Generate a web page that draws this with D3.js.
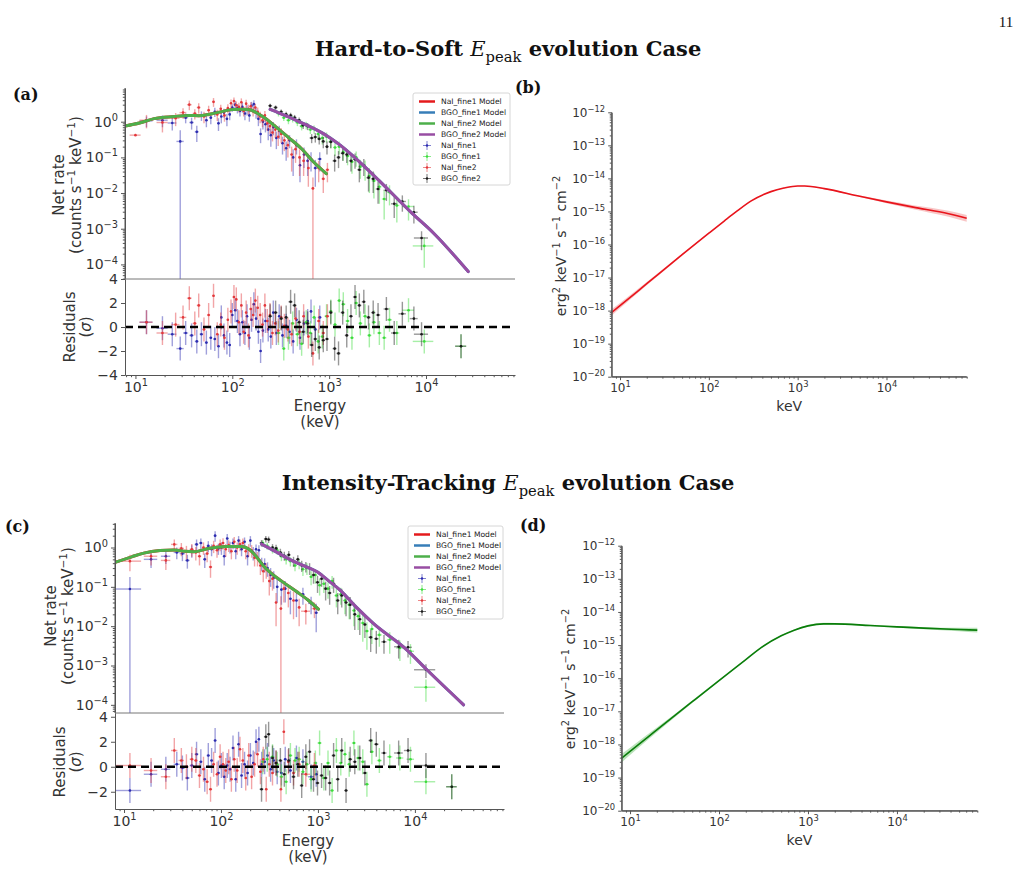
<!DOCTYPE html>
<html>
<head>
<meta charset="utf-8">
<script src="https://cdn.jsdelivr.net/npm/d3@7"></script>
<style>
body { margin: 0; background: #fff; }
text { font-family: "DejaVu Sans", sans-serif; }
</style>
</head>
<body>
<div id="chart"></div>
<script>
// ---- data ----
// count spectra points: [energy keV, half bin width, rate, rate error, residual sigma]
var nai1A = [[13,2,1.05,0.35,0.4],[19,2.5,1.1,0.4,-0.1],[24,2.5,0.92,0.35,-0.6],[29,2.5,0.28,0.3,-1.8],[33,2,1.3,0.4,-0.5],
  [38,2,0.95,0.35,-0.7],[43,2,0.52,0.25,-1.2],[48,2,1.5,0.45,-0.6],[54,2,1.1,0.4,-1.3],[60,2,1.3,0.45,-0.9],[66,2,1.9,0.55,-1.0],
  [72,2,0.9,0.35,-1.6],[77,2,1.4,0.5,0.8],[82,2,1.8,0.5,-0.7],[88,2.5,1.2,0.45,-1.3],[94,2.5,1.6,0.5,-1.5],[100,2.5,2.5,0.6,1.0],
  [107,3,3.0,0.8,1.4],[113,3,2.4,0.7,0.5],[120,3,2.0,0.6,-0.6],[127,3,2.6,0.8,0.4],[135,3,1.7,0.6,-0.5],[142,3,2.2,0.7,0.9],
  [150,3.5,1.5,0.5,-0.9],[158,3.5,2.8,0.8,0.6],[167,4,3.1,0.9,1.9],[176,4,1.8,0.6,0.7],[186,4,1.2,0.45,-0.4],[196,4.5,0.45,0.2,-2.0],
  [207,5,1.0,0.4,-0.3],[220,5,0.85,0.35,0.5],[235,5,0.6,0.3,-0.2],[250,6,0.42,0.22,-0.8],[265,6,0.7,0.28,1.2],[285,7,0.35,0.18,-0.5],
  [305,8,0.55,0.22,0.9],[330,8,0.25,0.13,-0.7],[360,9,0.18,0.1,0.1],[390,10,0.3,0.12,-0.4],[425,12,0.1,0.07,-1.2],[460,12,0.22,0.1,0.6],
  [500,14,0.06,0.04,-0.9],[550,15,0.12,0.07,0.3],[600,20,0.08,0.05,0.5],[650,20,0.09,0.05,1.3],[720,30,0.05,0.035,-0.2],[800,40,0.09,0.05,0.8]];
var nai2A = [[10,1.3,0.42,0.01,null],[13,2,1.1,0.45,0.4],[19,2.5,0.95,0.45,-0.5],[26,2.5,1.25,0.5,0.2],[31,2.5,1.8,0.6,0.8],[36,2,3.0,0.9,2.4],
  [41,2,1.7,0.55,0.3],[45,2,2.5,0.8,1.8],[51,2,1.4,0.5,-0.2],[57,2,2.1,0.7,1.0],[64,2,3.6,1.0,2.6],[70,2,1.6,0.55,-0.6],[76,2,2.3,0.7,0.2],
  [83,2,1.5,0.5,-0.9],[90,2.5,2.4,0.7,0.6],[97,2.5,3.3,0.9,1.3],[104,3,3.8,1.0,2.5],[110,3,2.9,0.8,2.3],[117,3,2.6,0.8,0.4],[124,3,3.5,1.0,1.8],
  [131,3,2.0,0.6,-0.4],[139,3,3.2,0.9,1.2],[147,3.5,2.3,0.7,-0.7],[155,3.5,2.7,0.8,1.5],[164,4,2.0,0.6,1.0],[173,4,2.5,0.7,2.2],
  [183,4,1.9,0.6,1.6],[194,4.5,1.4,0.5,1.0],[205,5,1.1,0.4,0.2],[217,5,1.5,0.5,1.8],[230,5,0.9,0.35,0.5],[245,6,0.75,0.3,1.0],
  [260,6,0.5,0.22,-0.5],[278,7,0.6,0.25,0.3],[298,8,0.38,0.17,-0.3],[320,8,0.45,0.2,0.8],[345,9,0.3,0.15,0.1],[375,10,0.22,0.12,-0.2],
  [410,12,0.12,0.08,-0.6],[450,12,0.17,0.1,0.7],[495,14,0.1,0.07,-0.4],[545,15,0.08,0.05,0.9],[610,20,0.05,0.035,-0.8],
  [680,25,0.0135,0.014,-2.2],[780,30,0.05,0.03,0.5],[870,35,0.025,0.015,-0.5],[960,40,0.045,0.025,0.9]];
var bgo1A = [[300,15,1.7,0.3,-0.5],[340,15,1.3,0.25,-1.8],[380,20,1.1,0.25,-0.9],[420,20,1.2,0.25,0.3],[470,25,0.95,0.2,-0.6],
  [520,25,0.75,0.18,-1.4],[580,30,0.8,0.2,0.4],[640,30,0.6,0.15,-0.5],[700,35,0.62,0.16,0.8],[770,35,0.45,0.13,-1.2],[850,40,0.35,0.12,-0.8],
  [940,45,0.38,0.12,0.9],[1040,50,0.28,0.1,1.3],[1150,55,0.19,0.08,0.2],[1270,60,0.2,0.08,2.2],[1400,70,0.14,0.06,1.9],[1550,75,0.11,0.05,0.5],
  [1720,80,0.075,0.04,-0.9],[1900,90,0.1,0.045,2.0],[2100,100,0.055,0.03,0.3],[2350,120,0.052,0.03,0.9],[2600,130,0.03,0.02,-0.7],
  [2900,150,0.022,0.015,0.4],[3300,170,0.015,0.01,-0.5],[3700,200,0.0068,0.005,-0.9],[4200,250,0.0105,0.006,0.6],[5000,300,0.0045,0.003,-0.5],
  [6600,900,0.0042,0.0025,1.4],[9600,2300,0.00033,0.00025,-1.2],[23000,3000,null,0,-1.6]];
var bgo2A = [[246,12,2.8,0.4,0.9],[280,14,2.5,0.35,1.2],[320,15,1.9,0.3,0.7],[360,17,1.6,0.3,0.8],[400,20,1.5,0.28,2.1],[440,22,1.3,0.25,1.8],
  [490,25,1.1,0.22,0.4],[540,28,0.8,0.18,-0.4],[600,30,0.75,0.17,0.3],[660,32,0.35,0.1,-1.5],[720,35,0.37,0.11,-1.0],[790,38,0.33,0.1,-1.7],
  [870,40,0.28,0.1,-1.1],[950,45,0.2,0.08,-1.0],[1040,50,0.27,0.09,1.2],[1140,55,0.08,0.04,-1.8],[1250,60,0.1,0.05,-2.2],[1380,65,0.13,0.05,1.2],
  [1520,70,0.12,0.05,-0.7],[1680,80,0.08,0.04,0.9],[1850,90,0.088,0.04,2.5],[2050,100,0.045,0.025,1.8],[2280,110,0.06,0.03,2.1],
  [2550,130,0.027,0.016,0.8],[2850,150,0.025,0.015,1.2],[3200,170,0.013,0.008,1.0],[3900,250,0.012,0.006,1.5],[4700,350,0.005,0.003,-0.5],
  [5700,500,0.0058,0.0028,1.1],[7500,700,0.0029,0.0015,0.7],[9000,1500,0.00055,0.0003,-0.6],[23000,3000,null,0,-1.6]];

var nai1C = [[11.5,3.5,0.088,0.09,-1.9],[19,3,0.5,0.2,-0.6],[27,3,0.6,0.22,-0.2],[35,2.5,0.75,0.25,0.2],[40,2.5,0.7,0.25,-0.1],
  [45,2.5,0.47,0.18,-0.9],[50,2.5,0.85,0.3,0.1],[56,2.5,1.2,0.4,1.0],[62,2.5,1.3,0.4,0.4],[68,2.5,0.5,0.2,-1.0],[74,3,1.1,0.35,0.9],
  [80,3,0.9,0.3,0.5],[87,3,2.0,0.6,2.1],[94,3,0.95,0.3,-0.5],[101,3.5,1.0,0.35,0.1],[108,3.5,0.6,0.25,-0.8],[116,3.5,1.7,0.5,0.1],
  [124,4,1.05,0.35,-0.2],[133,4,1.3,0.4,1.5],[142,4,0.8,0.3,-1.0],[152,4.5,1.5,0.45,1.8],[163,4.5,0.9,0.3,-0.7],[175,5,1.4,0.4,0.2],
  [188,5,0.6,0.25,-0.5],[201,5.5,1.5,0.45,0.9],[215,6,0.75,0.28,0.3],[230,6,0.9,0.3,2.0],[246,7,0.85,0.3,2.2],[263,7,0.4,0.15,0.2],
  [282,8,0.38,0.15,0.4],[302,8,0.3,0.12,0.9],[325,9,0.2,0.1,-0.2],[350,10,0.17,0.08,0.5],[380,12,0.1,0.06,-0.4],[420,14,0.085,0.05,-0.5],
  [460,16,0.09,0.05,0.6],[520,20,0.05,0.03,-0.3],[600,25,0.045,0.028,0.7],[700,30,0.065,0.03,0.4],[850,60,0.038,0.018,-0.8],[960,40,0.022,0.015,-0.6]];
var nai2C = [[11.5,3.5,0.45,0.2,0.1],[19,3,0.6,0.25,-0.3],[27,3,0.47,0.2,-0.8],[33,2.5,1.2,0.4,1.3],[39,2.5,0.95,0.35,0.5],[44,2.5,0.8,0.3,0.0],
  [50,2.5,0.9,0.32,0.6],[55,2.5,0.75,0.28,0.5],[60,2.5,0.6,0.25,-0.7],[66,2.5,1.0,0.35,-0.2],[72,3,0.7,0.28,-1.2],[78,3,0.32,0.15,-1.8],
  [84,3,1.1,0.38,0.2],[91,3,0.85,0.3,-0.6],[98,3.5,1.2,0.4,0.8],[105,3.5,1.3,0.42,0.2],[112,3.5,0.9,0.32,-0.3],[120,4,1.15,0.38,0.4],
  [128,4,0.8,0.3,-1.0],[137,4,1.4,0.45,0.6],[147,4.5,1.0,0.35,-0.3],[157,4.5,1.2,0.4,1.4],[168,5,1.3,0.4,0.5],[180,5,0.8,0.3,-0.9],
  [193,5.5,0.9,0.32,0.9],[207,6,0.85,0.3,-0.8],[222,6,0.55,0.22,0.2],[238,7,0.55,0.22,1.0],[255,7,0.35,0.15,-0.4],[273,8,0.25,0.12,0.6],
  [293,8,0.28,0.12,-1.8],[315,9,0.14,0.08,0.2],[340,10,0.16,0.08,-0.5],[370,11,0.04,0.03,0.3],[415,12,0.028,0.03,-1.8],[445,14,0.09,0.05,2.8],
  [495,16,0.07,0.04,0.4],[560,18,0.045,0.03,-0.5],[640,22,0.03,0.02,0.2],[750,80,0.024,0.013,-0.6],[920,60,0.028,0.012,0.1]];
var bgo1C = [[270,12,1.3,0.25,0.4],[300,14,1.1,0.22,0.6],[340,15,0.9,0.2,0.8],[380,18,0.85,0.2,0.2],[420,20,0.6,0.15,-0.8],[470,22,0.5,0.13,-1.2],
  [520,25,0.45,0.12,0.9],[580,28,0.35,0.1,0.5],[640,30,0.4,0.12,0.6],[700,32,0.28,0.09,-0.4],[770,35,0.3,0.1,0.2],[850,40,0.18,0.07,-1.0],
  [940,45,0.2,0.08,0.3],[1040,50,0.11,0.05,1.9],[1150,55,0.12,0.05,-0.9],[1270,60,0.09,0.04,0.3],[1400,65,0.14,0.05,-1.9],[1550,75,0.06,0.03,1.3],
  [1720,80,0.065,0.03,0.3],[1900,90,0.045,0.025,1.0],[2100,100,0.035,0.02,0.2],[2350,110,0.025,0.015,1.9],[2600,130,0.018,0.01,0.7],
  [2900,140,0.012,0.008,0.4],[3200,160,0.0075,0.005,-1.4],[3600,180,0.0085,0.005,1.2],[4300,250,0.006,0.003,0.5],[5500,350,0.0045,0.0025,0.8],
  [7000,600,0.0028,0.0015,0.7],[9000,800,0.0023,0.0012,0.6],[13000,3200,0.00028,0.00016,-1.2],[24000,3000,null,0,-1.6]];
var bgo2C = [[262,12,1.3,0.25,-1.8],[290,13,1.65,0.3,2.4],[310,14,1.6,0.3,2.6],[340,15,1.0,0.22,0.7],[370,17,0.95,0.22,0.3],[410,19,0.75,0.18,0.5],
  [450,21,0.62,0.16,-0.6],[500,24,0.65,0.16,0.5],[560,26,0.45,0.13,-0.8],[620,28,0.5,0.14,0.2],[680,30,0.35,0.11,-1.5],[750,33,0.33,0.1,0.8],
  [820,36,0.3,0.1,1.2],[900,40,0.2,0.08,-1.0],[990,45,0.13,0.06,-1.3],[1090,50,0.16,0.06,-0.7],[1200,55,0.09,0.045,-0.9],[1320,60,0.07,0.035,-1.3],
  [1450,65,0.12,0.05,0.9],[1600,75,0.045,0.025,-1.0],[1760,80,0.06,0.03,1.3],[1950,90,0.04,0.022,-1.9],[2150,100,0.035,0.02,0.6],
  [2400,110,0.02,0.012,0.4],[2700,130,0.015,0.009,0.7],[3050,150,0.011,0.006,-0.5],[3500,180,0.0052,0.003,2.1],[4000,220,0.0048,0.0028,1.8],
  [4800,300,0.004,0.002,1.1],[6800,700,0.003,0.0015,1.1],[8500,800,0.0029,0.0013,1.3],[13000,3200,0.00078,0.0003,0.1],[24000,3000,null,0,-1.6]];

// model curves: [energy keV, rate]
var naiModelA = [[7.8,0.76],[11,0.92],[15.6,1.22],[25,1.4],[35,1.5],[45,1.47],[60,1.65],[80,1.95],[100,2.2],[130,2.25],[155,2.12],
  [187,1.65],[219,1.25],[276,0.75],[376,0.37],[513,0.18],[700,0.072],[935,0.035]];
var bgoModelA = [[246,2.22],[350,1.5],[500,0.98],[700,0.64],[955,0.4],[1300,0.22],[1700,0.12],[2250,0.06],[3300,0.022],[7200,0.0027],[12000,0.00075],[27300,0.000063]];
var naiModelC = [[8.07,0.42],[12,0.58],[16,0.72],[23.5,0.84],[33,0.87],[42,0.8],[52,0.78],[77,0.96],[114,1.06],[163,1.06],[195,0.9],
  [230,0.6],[272,0.35],[330,0.22],[440,0.13],[600,0.076],[800,0.045],[1010,0.027]];
var bgoModelC = [[262,1.22],[380,0.75],[516,0.49],[700,0.35],[970,0.245],[1300,0.14],[1680,0.084],[2500,0.03],[3700,0.0119],[8250,0.0025],[13300,0.00078],[31800,0.0001]];

// nuFnu spectra with their bands
var specEnergyB = [8,10,20,50,100,150,200,300,500,700,1000,1200,2000,5000,10000,20000,50000,80000];
var specB   = [8.7e-19,1.41e-18,6.5e-18,4.9e-17,2.19e-16,5.2e-16,9.5e-16,2.09e-15,3.98e-15,5.1e-15,5.9e-15,5.9e-15,4.9e-15,2.88e-15,1.95e-15,1.35e-15,8.5e-16,6.2e-16];
var specBLo = [6.9e-19,1.17e-18,5.8e-18,4.6e-17,2.1e-16,5.05e-16,9.3e-16,2.04e-15,3.89e-15,5.0e-15,5.77e-15,5.75e-15,4.73e-15,2.72e-15,1.78e-15,1.17e-15,6.9e-16,4.9e-16];
var specBHi = [1.1e-18,1.7e-18,7.3e-18,5.2e-17,2.27e-16,5.35e-16,9.7e-16,2.14e-15,4.07e-15,5.2e-15,6.03e-15,6.05e-15,5.07e-15,3.05e-15,2.14e-15,1.55e-15,1.05e-15,7.8e-16];
var specEnergyD = [8,10,20,50,100,200,300,500,700,1000,1500,2000,5000,10000,20000,50000,80000];
var specD   = [3.8e-19,6.2e-19,2.75e-18,1.95e-17,8.5e-17,3.63e-16,8.5e-16,1.9e-15,2.82e-15,3.8e-15,4.37e-15,4.37e-15,3.9e-15,3.55e-15,3.24e-15,2.95e-15,2.82e-15];
var specDLo = [2.82e-19,4.81e-19,2.34e-18,1.78e-17,8.02e-17,3.51e-16,8.21e-16,1.84e-15,2.69e-15,3.59e-15,4.08e-15,4.12e-15,3.72e-15,3.35e-15,3.02e-15,2.63e-15,2.4e-15];
var specDHi = [5.13e-19,7.99e-19,3.23e-18,2.14e-17,9.0e-17,3.76e-16,8.8e-16,1.97e-15,2.95e-15,4.02e-15,4.68e-15,4.63e-15,4.09e-15,3.76e-15,3.47e-15,3.31e-15,3.31e-15];

var legendNames = ["NaI_fine1 Model","BGO_fine1 Model","NaI_fine2 Model","BGO_fine2 Model","NaI_fine1","BGO_fine1","NaI_fine2","BGO_fine2"];
var modelColors = ["#e41a1c","#377eb8","#4daf4a","#984ea3"];
var dataColors = ["#2c2cb0","#3cdc3c","#e3383b","#1a1a1a"];

var width = 1024, height = 885;
var svg = d3.select("#chart").append("svg")
  .attr("width", width).attr("height", height)
  .style("background", "#fff");

var clipId = 0;

function rich(sel, parts, size) {
  // parts: {t, s: "sup"|"sub", it, w}
  var off = 0;
  parts.forEach(function(p){
    var target = p.s === "sup" ? -size * 0.42 : (p.s === "sub" ? size * 0.28 : 0);
    var t = sel.append("tspan").text(p.t);
    if (target - off !== 0) t.attr("dy", target - off);
    off = target;
    if (p.s) t.attr("font-size", size * 0.7);
    if (p.it) t.attr("font-style", "italic");
    if (p.w) t.attr("font-weight", p.w);
  });
}

function expStr(e) { return e < 0 ? "\u2212" + (-e) : "" + e; }

function logTicks(dom) {
  var major = [], minor = [];
  var lo = Math.floor(Math.log10(dom[0])), hi = Math.ceil(Math.log10(dom[1]));
  for (var n = lo; n <= hi; n++) {
    for (var k = 1; k < 10; k++) {
      var v = k * Math.pow(10, n);
      if (v < dom[0] * 0.9999 || v > dom[1] * 1.0001) continue;
      if (k === 1) major.push(v); else minor.push(v);
    }
  }
  return {major: major, minor: minor};
}

function styleAxis(g, size) {
  g.attr("font-family", null).attr("font-size", size).attr("color", "#555");
  g.selectAll(".tick text").attr("fill", "#333");
  g.select(".domain").attr("stroke-width", 1);
}

function logAxis(g, axisFn, scale, size, len) {
  var t = logTicks(scale.domain());
  g.append("g").call(axisFn(scale).tickValues(t.minor).tickSize(len * 0.55).tickSizeOuter(0).tickFormat(""))
    .call(function(s){ s.select(".domain").remove(); s.attr("color", "#555"); });
  var m = g.append("g").call(axisFn(scale).tickValues(t.major).tickSize(len).tickPadding(3).tickSizeOuter(0));
  styleAxis(m, size);
  m.selectAll(".tick text").each(function(d){
    var s = d3.select(this).text(null);
    rich(s, [{t: "10"}, {t: expStr(Math.round(Math.log10(d))), s: "sup"}], size);
  });
}

function drawCounts(o) {
  var g = svg.append("g");
  var x = d3.scaleLog().domain(o.eDom).range([o.x0, o.x1]);
  var y = d3.scaleLog().domain(o.rDom).range([o.yMid, o.yTop]);
  var yr = d3.scaleLinear().domain(o.resDom).range([o.yBot, o.yMid]);

  var cTop = "clip" + (clipId++), cRes = "clip" + (clipId++);
  var defs = g.append("defs");
  defs.append("clipPath").attr("id", cTop).append("rect")
    .attr("x", o.x0).attr("y", o.yTop - 10).attr("width", o.x1 - o.x0).attr("height", o.yMid - o.yTop + 10);
  defs.append("clipPath").attr("id", cRes).append("rect")
    .attr("x", o.x0).attr("y", o.yMid).attr("width", o.x1 - o.x0).attr("height", o.yBot - o.yMid);

  var top = g.append("g").attr("clip-path", "url(#" + cTop + ")");
  var res = g.append("g").attr("clip-path", "url(#" + cRes + ")");

  // data with error bars
  o.data.forEach(function(series, si){
    var col = dataColors[si];
    series.forEach(function(p){
      var E = p[0], dE = p[1], v = p[2], err = p[3], r = p[4];
      if (v !== null) {
        var lo = v - err > 0 ? y(v - err) : o.yMid + 20;
        top.append("line").attr("x1", x(E)).attr("x2", x(E)).attr("y1", lo).attr("y2", y(v + err))
          .attr("stroke", col).attr("stroke-opacity", 0.45).attr("stroke-width", 1.4);
        top.append("line").attr("x1", x(E - dE)).attr("x2", x(E + dE)).attr("y1", y(v)).attr("y2", y(v))
          .attr("stroke", col).attr("stroke-opacity", 0.45).attr("stroke-width", 1.4);
        top.append("circle").attr("cx", x(E)).attr("cy", y(v)).attr("r", 1.3).attr("fill", col);
      }
      if (r !== null) {
        res.append("line").attr("x1", x(E)).attr("x2", x(E)).attr("y1", yr(r - 1)).attr("y2", yr(r + 1))
          .attr("stroke", col).attr("stroke-opacity", 0.45).attr("stroke-width", 1.4);
        res.append("line").attr("x1", x(E - dE)).attr("x2", x(E + dE)).attr("y1", yr(r)).attr("y2", yr(r))
          .attr("stroke", col).attr("stroke-opacity", 0.45).attr("stroke-width", 1.4);
        res.append("circle").attr("cx", x(E)).attr("cy", yr(r)).attr("r", 1.3).attr("fill", col);
      }
    });
  });

  // models (fine1 models sit under fine2 models)
  var line = d3.line().x(function(d){ return x(d[0]); }).y(function(d){ return y(d[1]); }).curve(d3.curveMonotoneX);
  [o.naiModel, o.bgoModel, o.naiModel, o.bgoModel].forEach(function(m, i){
    top.append("path").attr("d", line(m)).attr("fill", "none")
      .attr("stroke", modelColors[i]).attr("stroke-width", 3).attr("stroke-linecap", "round");
  });

  // zero line
  res.append("line").attr("x1", o.x0).attr("x2", o.x1).attr("y1", yr(0)).attr("y2", yr(0))
    .attr("stroke", "#000").attr("stroke-width", 2.5).attr("stroke-dasharray", "8,5");

  // axes
  var ay = g.append("g").attr("transform", "translate(" + o.x0 + ",0)");
  logAxis(ay, d3.axisLeft, y, 14, 4);
  ay.append("line").attr("x1", 0).attr("x2", 0).attr("y1", o.yTop).attr("y2", o.yMid).attr("stroke", "#555");

  g.append("line").attr("x1", o.x0).attr("x2", o.x1).attr("y1", o.yMid).attr("y2", o.yMid)
    .attr("stroke", "#777").attr("stroke-width", 1);

  var ar = g.append("g").attr("transform", "translate(" + o.x0 + ",0)")
    .call(d3.axisLeft(yr).tickValues([-4, -2, 0, 2, 4].filter(function(v){ return v >= o.resDom[0] && v <= o.resDom[1]; }))
      .tickSize(4).tickPadding(3).tickSizeOuter(0));
  styleAxis(ar, 14);

  var ax = g.append("g").attr("transform", "translate(0," + o.yBot + ")");
  logAxis(ax, d3.axisBottom, x, 14, 4);

  // labels
  var lbl = g.append("g").attr("fill", "#333").attr("font-size", 15).attr("text-anchor", "middle");
  lbl.append("text").attr("transform", "translate(" + o.netX + "," + o.netY + ") rotate(-90)").attr("dy", "0.35em").text("Net rate");
  var ct = lbl.append("text").attr("transform", "translate(" + (o.netX + 17) + "," + o.netY + ") rotate(-90)").attr("dy", "0.35em");
  rich(ct, [{t: "(counts s"}, {t: "\u22121", s: "sup"}, {t: " keV"}, {t: "\u22121", s: "sup"}, {t: ")"}], 15);
  lbl.append("text").attr("transform", "translate(" + o.resX + "," + o.resY + ") rotate(-90)").attr("dy", "0.35em").text("Residuals");
  var sg = lbl.append("text").attr("transform", "translate(" + (o.resX + 16) + "," + o.resY + ") rotate(-90)").attr("dy", "0.35em");
  rich(sg, [{t: "("}, {t: "\u03c3", it: true}, {t: ")"}], 15);
  lbl.append("text").attr("x", o.enX).attr("y", o.enY).text("Energy");
  lbl.append("text").attr("x", o.enX).attr("y", o.enY + 16).text("(keV)");

  // legend
  var L = o.legend;
  var lg = g.append("g");
  lg.append("rect").attr("x", L.x).attr("y", L.y).attr("width", L.w).attr("height", L.h).attr("rx", 2)
    .attr("fill", "#fff").attr("fill-opacity", 0.85).attr("stroke", "#ccc").attr("stroke-width", 0.8);
  legendNames.forEach(function(n, i){
    var yy = L.y + 8.5 + i * 11;
    if (i < 4) {
      lg.append("line").attr("x1", L.x + 6).attr("x2", L.x + 22).attr("y1", yy).attr("y2", yy)
        .attr("stroke", modelColors[i]).attr("stroke-width", 2.5);
    } else {
      var c = dataColors[i - 4], cx = L.x + 14;
      lg.append("line").attr("x1", cx - 4).attr("x2", cx + 4).attr("y1", yy).attr("y2", yy).attr("stroke", c).attr("stroke-opacity", 0.6);
      lg.append("line").attr("x1", cx).attr("x2", cx).attr("y1", yy - 4.5).attr("y2", yy + 4.5).attr("stroke", c).attr("stroke-opacity", 0.6);
      lg.append("circle").attr("cx", cx).attr("cy", yy).attr("r", 1.2).attr("fill", c);
    }
    lg.append("text").attr("x", L.x + 28).attr("y", yy).attr("dy", "0.35em").attr("font-size", 7.6).attr("fill", "#222").text(n);
  });
}

function drawSpec(o) {
  var g = svg.append("g");
  var x = d3.scaleLog().domain(o.eDom).range([o.x0, o.x1]);
  var y = d3.scaleLog().domain([1e-20, 1e-12]).range([o.yBot, o.yTop]);
  var pts = o.energy.map(function(E, i){ return {E: E, v: o.vals[i], lo: o.lo[i], hi: o.hi[i]}; });
  var area = d3.area().x(function(d){ return x(d.E); }).y0(function(d){ return y(d.lo); }).y1(function(d){ return y(d.hi); })
    .curve(d3.curveMonotoneX);
  var line = d3.line().x(function(d){ return x(d.E); }).y(function(d){ return y(d.v); }).curve(d3.curveMonotoneX);
  g.append("path").attr("d", area(pts)).attr("fill", o.band).attr("fill-opacity", 0.45);
  g.append("path").attr("d", line(pts)).attr("fill", "none").attr("stroke", o.color).attr("stroke-width", 1.6);

  var ay = g.append("g").attr("transform", "translate(" + o.x0 + ",0)");
  logAxis(ay, d3.axisLeft, y, 12, 3.5);
  ay.append("line").attr("x1", 0).attr("x2", 0).attr("y1", o.yTop).attr("y2", o.yBot).attr("stroke", "#555");
  var ax = g.append("g").attr("transform", "translate(0," + o.yBot + ")");
  logAxis(ax, d3.axisBottom, x, 12, 3.5);
  ax.append("line").attr("x1", o.x0).attr("x2", o.x1).attr("y1", 0).attr("y2", 0).attr("stroke", "#555");

  g.append("text").attr("x", (o.x0 + o.x1) / 2).attr("y", o.yBot + 34).attr("text-anchor", "middle")
    .attr("font-size", 14).attr("fill", "#333").text("keV");
  var yl = g.append("text").attr("transform", "translate(" + o.labX + "," + o.labY + ") rotate(-90)")
    .attr("text-anchor", "middle").attr("dy", "0.35em").attr("font-size", 14).attr("fill", "#333");
  rich(yl, [{t: "erg"}, {t: "2", s: "sup"}, {t: " keV"}, {t: "\u22121", s: "sup"}, {t: " s"}, {t: "\u22121", s: "sup"},
    {t: " cm"}, {t: "\u22122", s: "sup"}], 14);
}

// ---- titles, page number, panel letters ----
var serif = "'DejaVu Serif', 'Liberation Serif', serif";
svg.append("text").attr("x", 1006).attr("y", 27).attr("text-anchor", "middle").style("font-family", "'Liberation Serif', serif")
  .attr("font-size", 15).attr("fill", "#111").text("11");

function title(txt1, txt2, yy) {
  var t = svg.append("text").attr("x", 508).attr("y", yy).attr("text-anchor", "middle")
    .style("font-family", serif).attr("font-size", 21).attr("font-weight", "bold").attr("fill", "#111");
  rich(t, [{t: txt1}, {t: "E", it: true, w: "normal"}, {t: "peak", s: "sub", w: "normal"}, {t: txt2}], 21);
}
title("Hard-to-Soft ", " evolution Case", 56);
title("Intensity-Tracking ", " evolution Case", 490);

[["(a)", 13, 100], ["(b)", 515, 93], ["(c)", 5, 532], ["(d)", 520, 531]].forEach(function(p){
  svg.append("text").attr("x", p[1]).attr("y", p[2]).style("font-family", serif).attr("font-size", 16)
    .attr("font-weight", "bold").attr("fill", "#111").text(p[0]);
});

drawCounts({x0: 125, x1: 515, yTop: 88, yMid: 279, yBot: 375, eDom: [7.8, 83000], rDom: [3.9e-5, 8.8], resDom: [-4, 4],
  data: [nai1A, bgo1A, nai2A, bgo2A], naiModel: naiModelA, bgoModel: bgoModelA,
  netX: 59, netY: 185, resX: 70, resY: 327, enX: 320, enY: 411,
  legend: {x: 413, y: 93, w: 97, h: 92}});
drawCounts({x0: 115, x1: 504, yTop: 523, yMid: 713, yBot: 809, eDom: [8.07, 83000], rDom: [6.2e-5, 4.2], resDom: [-3.38, 4.3],
  data: [nai1C, bgo1C, nai2C, bgo2C], naiModel: naiModelC, bgoModel: bgoModelC,
  netX: 51, netY: 616, resX: 60, resY: 762, enX: 308, enY: 846,
  legend: {x: 408, y: 526, w: 95, h: 93}});

drawSpec({x0: 611.7, x1: 966.7, yTop: 112.3, yBot: 376.7, eDom: [8.06, 80000],
  energy: specEnergyB, vals: specB, lo: specBLo, hi: specBHi, color: "#e8141c", band: "#f08080", labX: 561, labY: 246});
drawSpec({x0: 621.7, x1: 977.3, yTop: 545.7, yBot: 810.7, eDom: [8.06, 80000],
  energy: specEnergyD, vals: specD, lo: specDLo, hi: specDHi, color: "#0a7d0a", band: "#66c266", labX: 570, labY: 679});
</script>
</body>
</html>
